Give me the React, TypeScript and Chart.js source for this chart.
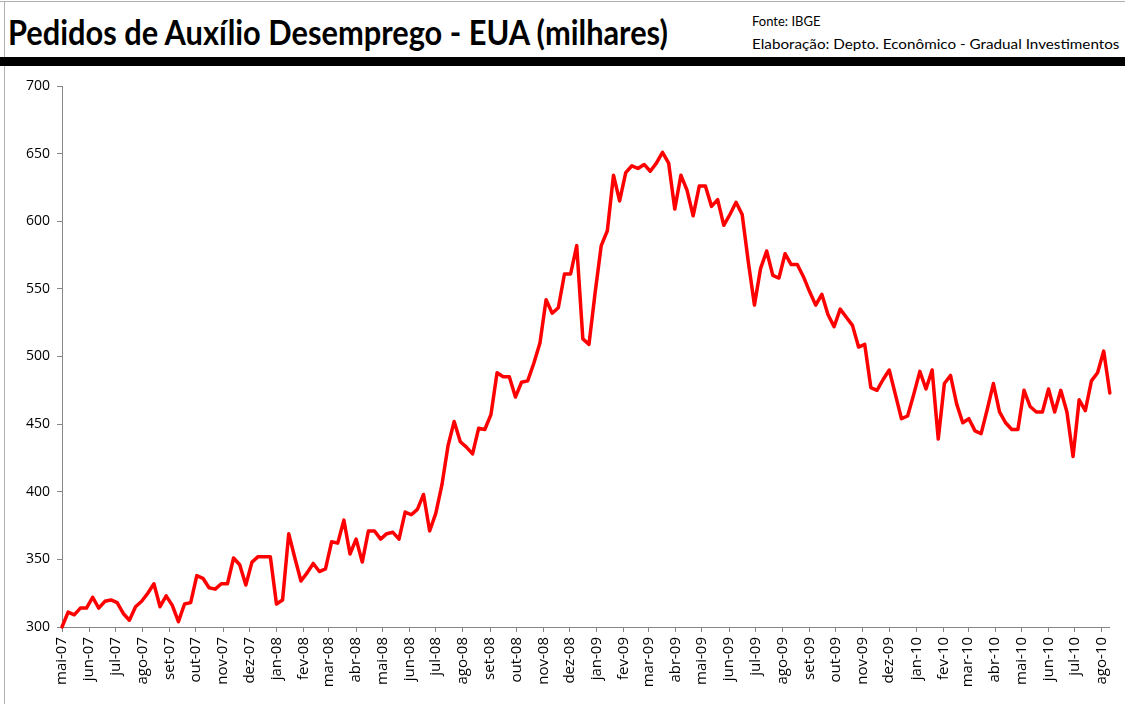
import React, { useEffect, useRef } from 'react';
import { Chart, registerables } from 'chart.js';

Chart.register(...registerables);

const monthNames = ['jan', 'fev', 'mar', 'abr', 'mai', 'jun', 'jul', 'ago', 'set', 'out', 'nov', 'dez'];

// Weekly initial claims (thousands), first week ending 5-May-2007
const claims2007 = [300, 311, 309, 314, 314, 322, 314, 319, 320, 318, 310, 305, 315, 319, 325, 332, 315, 323, 316, 304, 317, 318, 338, 336, 329, 328, 332, 332, 351, 346, 331, 348, 352, 352, 352];
const claims2008 = [317, 320, 369, 351, 334, 340, 347, 341, 343, 363, 362, 379, 354, 365, 348, 371, 371, 365, 369, 370, 365, 385, 383, 387, 398, 371, 384, 405, 434, 452, 437, 433, 428, 447, 446, 457, 488, 485, 485, 470, 481, 482, 495, 510, 542, 532, 536, 561, 561, 582, 513, 509];
const claims2009 = [547, 582, 593, 634, 615, 636, 641, 639, 642, 637, 643, 651, 643, 609, 634, 623, 604, 626, 626, 611, 616, 597, 605, 614, 605, 570, 538, 565, 578, 560, 558, 576, 568, 568, 559, 548, 538, 546, 531, 522, 535, 529, 523, 507, 509, 477, 475, 483, 490, 472, 454, 456];
const claims2010 = [472, 489, 476, 490, 439, 480, 486, 465, 451, 454, 445, 443, 461, 480, 459, 451, 446, 446, 475, 463, 459, 459, 476, 459, 475, 459, 426, 468, 460, 482, 488, 504, 473];

const yTicks = [300, 350, 400, 450, 500, 550, 600, 650, 700];
const startYear = 2007;
const startMonth = 4; // May
const startDay = 5;
const monthCount = 40; // mai-07 .. ago-10

const claims = [...claims2007, ...claims2008, ...claims2009, ...claims2010];
const startMs = Date.UTC(startYear, startMonth, startDay);
const DAY = 86400000;
const points = claims.map((v, i) => ({ x: i * 7, y: v }));

const monthTickDays: number[] = [];
const monthTickLabels: string[] = [];
for (let m = 0; m < monthCount; m++) {
  const d = new Date(Date.UTC(startYear, startMonth + m, startDay));
  monthTickDays.push(Math.round((d.getTime() - startMs) / DAY));
  const yy = String(d.getUTCFullYear() % 100).padStart(2, '0');
  monthTickLabels.push(`${monthNames[d.getUTCMonth()]}-${yy}`);
}

const AXIS_GRAY = '#868686';

export default function App() {
  const canvasRef = useRef<HTMLCanvasElement | null>(null);
  const titleRef = useRef<HTMLSpanElement | null>(null);
  const srcRef = useRef<HTMLSpanElement | null>(null);

  useEffect(() => {
    if (titleRef.current) {
      const w = titleRef.current.offsetWidth;
      if (w > 0) titleRef.current.style.transform = `scaleX(${660 / w})`;
    }
    if (srcRef.current) {
      const w = srcRef.current.offsetWidth;
      if (w > 0) srcRef.current.style.transform = `scaleX(${368 / w})`;
    }
    const canvas = canvasRef.current;
    if (!canvas) return;
    const chart = new Chart(canvas, {
      type: 'line',
      data: {
        datasets: [
          {
            data: points,
            borderColor: '#ff0000',
            borderWidth: 3.5,
            pointRadius: 0,
            tension: 0,
            borderJoinStyle: 'round',
            borderCapStyle: 'round',
            fill: false,
            clip: 4,
          },
        ],
      },
      options: {
        animation: false,
        responsive: false,
        layout: { padding: { top: 16, right: 8, left: 0, bottom: 0 } },
        plugins: { legend: { display: false }, tooltip: { enabled: false }, title: { display: false } },
        scales: {
          x: {
            type: 'linear',
            min: 0,
            max: (claims.length - 1) * 7,
            afterBuildTicks: (scale: any) => {
              scale.ticks = monthTickDays.map((v) => ({ value: v }));
            },
            afterFit: (scale: any) => {
              scale.height = 77;
            },
            ticks: {
              autoSkip: false,
              minRotation: 90,
              maxRotation: 90,
              padding: 5,
              color: '#000000',
              font: { family: 'Open Sans', size: 15 },
              callback: (_v: any, i: number) => monthTickLabels[i],
            },
            grid: {
              display: true,
              drawOnChartArea: false,
              drawTicks: true,
              tickLength: 5,
              color: AXIS_GRAY,
            },
            border: { display: true, color: AXIS_GRAY, width: 1 },
          },
          y: {
            type: 'linear',
            min: 300,
            max: 700,
            afterBuildTicks: (scale: any) => {
              scale.ticks = yTicks.map((v) => ({ value: v }));
            },
            afterFit: (scale: any) => {
              scale.width = 62;
            },
            ticks: {
              padding: 7,
              color: '#000000',
              font: { family: 'Open Sans', size: 14 },
              callback: (v: any) => String(v),
            },
            grid: {
              display: true,
              drawOnChartArea: false,
              drawTicks: true,
              tickLength: 5,
              color: AXIS_GRAY,
            },
            border: { display: true, color: AXIS_GRAY, width: 1 },
          },
        },
      },
    } as any);
    return () => chart.destroy();
  }, []);

  return (
    <div
      style={{
        position: 'absolute',
        left: 0,
        top: 0,
        width: 1125,
        height: 704,
        background: '#ffffff',
        overflow: 'hidden',
      }}
    >
      <div style={{ position: 'absolute', left: 0, top: 1, width: 1125, height: 1, background: '#b0b0b0' }} />
      <div style={{ position: 'absolute', left: 4, top: 1, width: 1, height: 703, background: '#b0b0b0' }} />
      <div style={{ position: 'absolute', left: 8, top: 12, whiteSpace: 'nowrap' }}>
        <span
          ref={titleRef}
          style={{
            display: 'inline-block',
            transformOrigin: 'left top',
            fontFamily: 'Lato',
            fontWeight: 700,
            fontSize: 34,
            lineHeight: '40px',
            color: '#000',
          }}
        >
          Pedidos de Auxílio Desemprego - EUA (milhares)
        </span>
      </div>
      <div
        style={{
          position: 'absolute',
          left: 752,
          top: 13,
          fontFamily: 'Lato',
          fontSize: 13,
          lineHeight: '16px',
          color: '#000',
          whiteSpace: 'nowrap',
        }}
      >
        Fonte: IBGE
      </div>
      <div style={{ position: 'absolute', left: 752, top: 35, whiteSpace: 'nowrap' }}>
        <span
          ref={srcRef}
          style={{
            display: 'inline-block',
            transformOrigin: 'left top',
            fontFamily: 'Lato',
            fontSize: 13,
            lineHeight: '16px',
            color: '#000',
          }}
        >
          Elaboração: Depto. Econômico - Gradual Investimentos
        </span>
      </div>
      <div style={{ position: 'absolute', left: 0, top: 57, width: 1125, height: 9, background: '#000' }} />
      <canvas
        ref={canvasRef}
        width={1125}
        height={634}
        style={{ position: 'absolute', left: 0, top: 70, width: 1125, height: 634 }}
      />
    </div>
  );
}
